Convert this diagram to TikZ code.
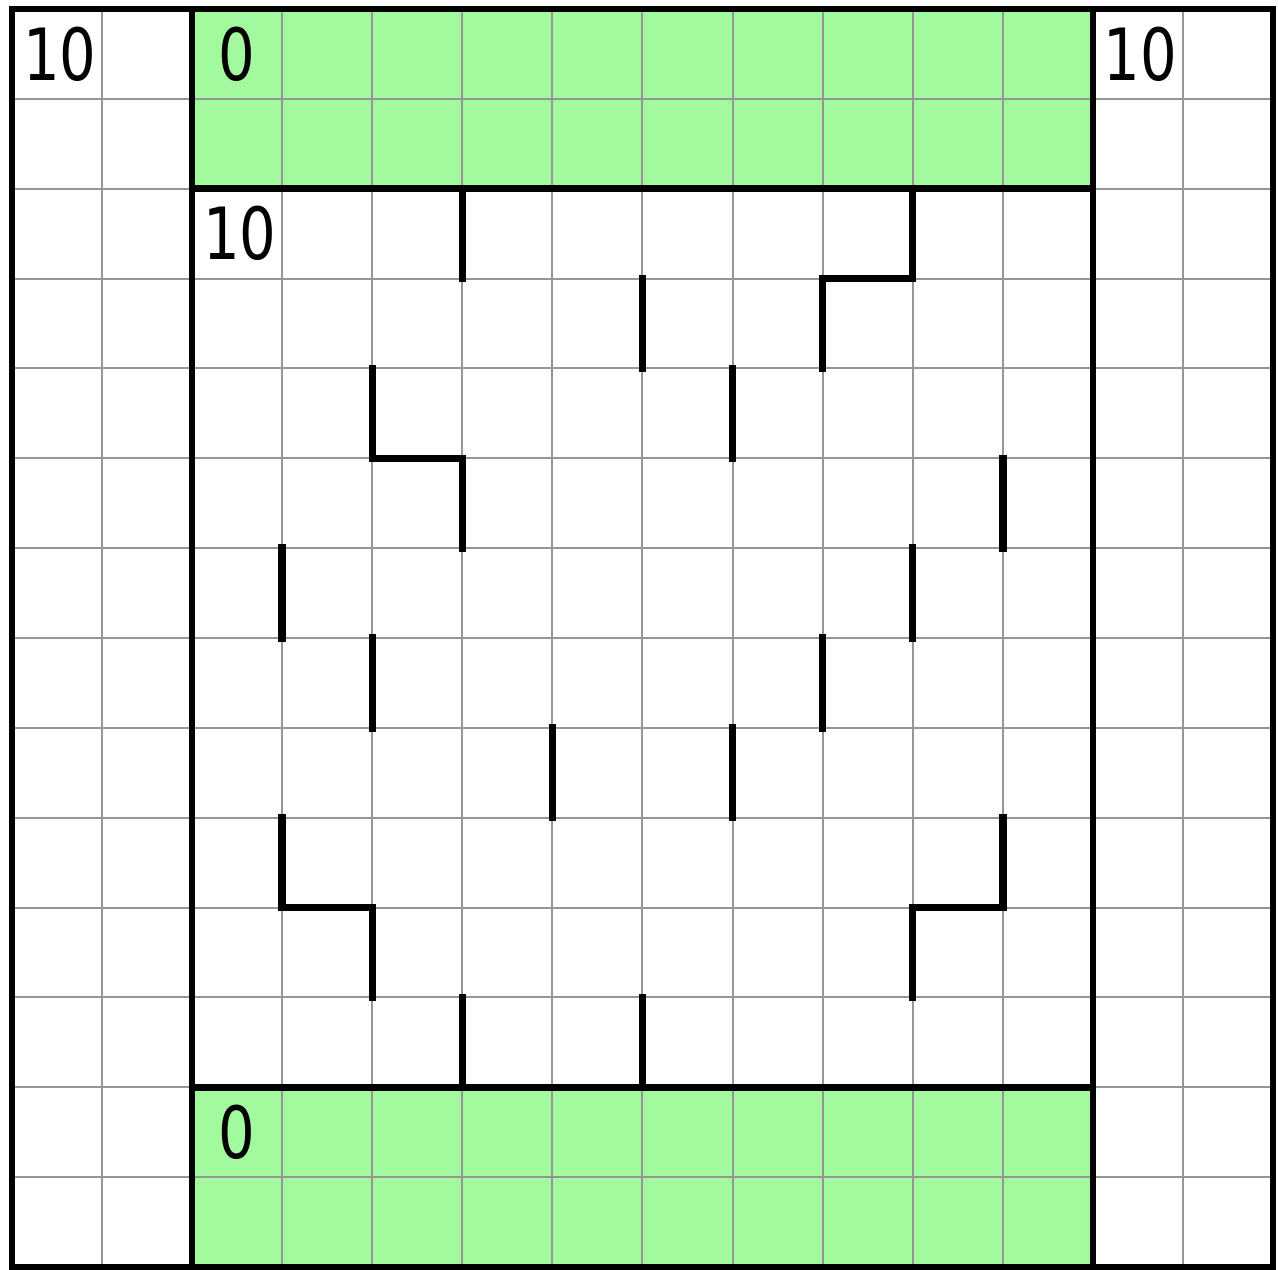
\documentclass[tikz,border=0pt]{standalone}
\usepackage{fontspec}
\newfontfamily\numfont[FakeStretch=0.8]{DejaVu Sans}
\definecolor{cellgreen}{RGB}{162,249,158}
\definecolor{gridgray}{RGB}{150,150,150}
\begin{document}
\begin{tikzpicture}[x=0.9007cm,y=-0.8986cm,
  gridline/.style={draw=gridgray,line width=0.02cm},
  border/.style={draw=black,line width=0.065cm},
  wall/.style={draw=black,line width=0.075cm,line cap=rect,line join=miter},
  num/.style={inner sep=0pt,font=\numfont\fontsize{20.5}{20.5}\selectfont}]
\useasboundingbox (-0.12cm,0.09cm) rectangle (12.66cm,-12.61cm);
\fill[white] (-0.12cm,0.09cm) rectangle (12.66cm,-12.61cm);
\fill[cellgreen] (2,0) rectangle (12,2);
\fill[cellgreen] (2,12) rectangle (12,14);
\foreach \i in {1,...,13} {
  \draw[gridline] (\i,0) -- (\i,14);
  \draw[gridline] (0,\i) -- (14,\i);
}
\draw[border] (0,0) rectangle (14,14);
\draw[border] (2,0) -- (2,14);
\draw[border] (12,0) -- (12,14);
\draw[border] (2,2) -- (12,2);
\draw[border] (2,12) -- (12,12);
% walls
\draw[wall] (5,2) -- (5,3);
\draw[wall] (10,2) -- (10,3) -- (9,3) -- (9,4);
\draw[wall] (7,3) -- (7,4);
\draw[wall] (4,4) -- (4,5) -- (5,5) -- (5,6);
\draw[wall] (8,4) -- (8,5);
\draw[wall] (11,5) -- (11,6);
\draw[wall] (3,6) -- (3,7);
\draw[wall] (10,6) -- (10,7);
\draw[wall] (4,7) -- (4,8);
\draw[wall] (9,7) -- (9,8);
\draw[wall] (6,8) -- (6,9);
\draw[wall] (8,8) -- (8,9);
\draw[wall] (3,9) -- (3,10) -- (4,10) -- (4,11);
\draw[wall] (11,9) -- (11,10) -- (10,10) -- (10,11);
\draw[wall] (5,11) -- (5,12);
\draw[wall] (7,11) -- (7,12);
% labels
\node[num] (tl) at (0.53,0.5) {10};
\node[num] (tg) at (2.5,0.5) {0};
\node[num] (tr) at (12.53,0.5) {10};
\node[num] (in) at (2.53,2.5) {10};
\node[num] (bg) at (2.5,12.5) {0};
\end{tikzpicture}
\end{document}
